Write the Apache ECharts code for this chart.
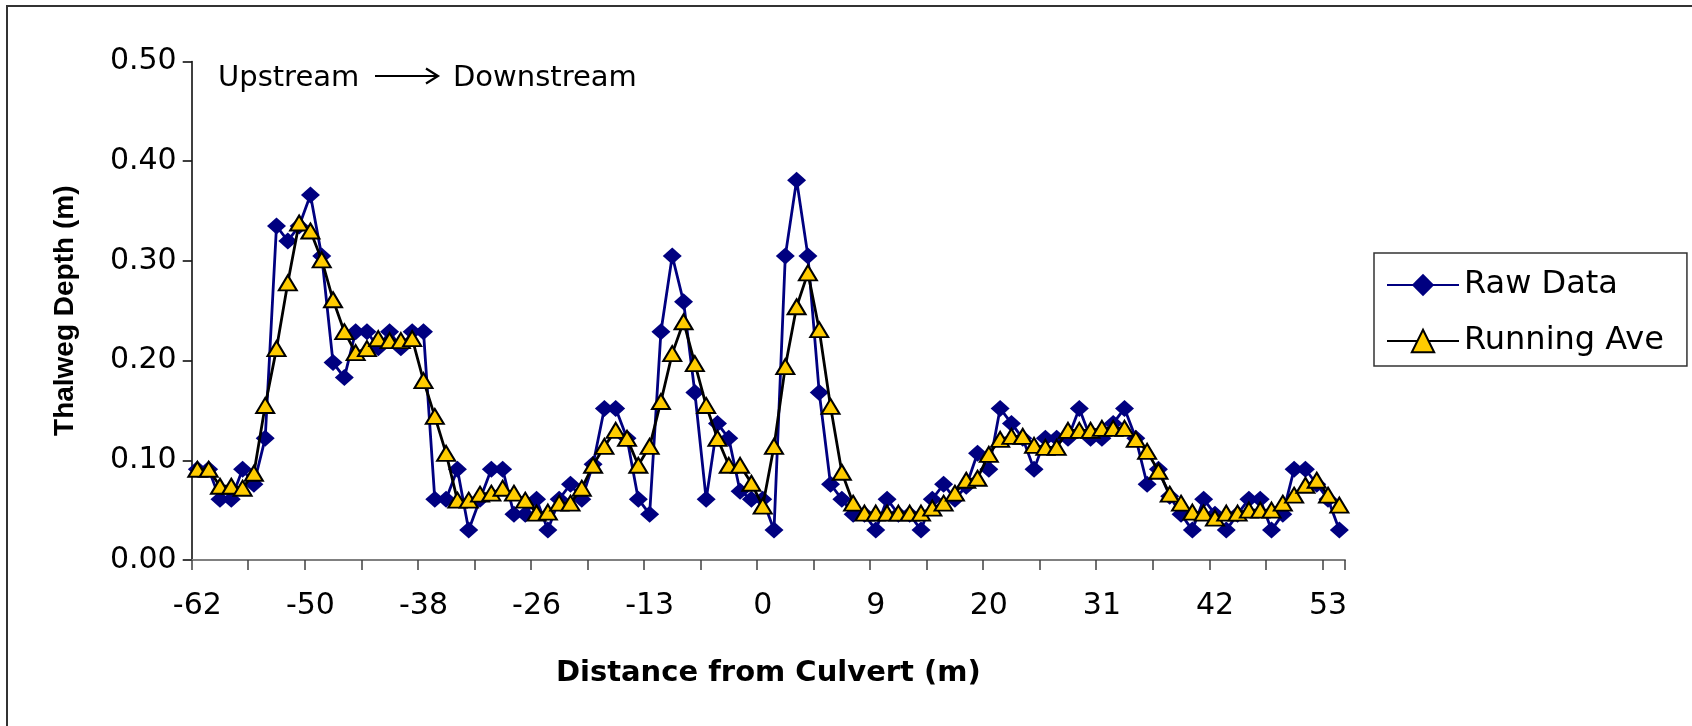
<!DOCTYPE html>
<html><head><meta charset="utf-8">
<script src="https://cdn.jsdelivr.net/npm/echarts@6/dist/echarts.min.js"></script>
<style>html,body{margin:0;padding:0;background:#fff}#c{width:1692px;height:726px}</style>
</head><body><div id="c"></div>
<script>
const categories = [
"-62","-61","-60","-58","-57","-56","-55","-54","-52","-51",
"-50","-49","-48","-46","-45","-44","-43","-42","-40","-39",
"-38","-37","-36","-34","-33","-32","-31","-30","-28","-27",
"-26","-25","-23","-22","-21","-20","-18","-17","-16","-14",
"-13","-12","-10","-9","-8","-7","-5","-4","-3","-1",
"0","1","2","3","4","5","5.5","6","7","8",
"9","10","11","12","13","14","16","17","18","19",
"20","21","22","23","24","25","27","28","29","30",
"31","32","33","34","35","36","38","39","40","41",
"42","43","44","45","46","47","49","50","51","52",
"53","54"];
const rawData = [
0.091,0.091,0.061,0.061,0.091,0.076,0.122,0.335,0.320,0.335,
0.366,0.305,0.198,0.183,0.229,0.229,0.213,0.229,0.213,0.229,
0.229,0.061,0.061,0.091,0.030,0.061,0.091,0.091,0.046,0.046,
0.061,0.030,0.061,0.076,0.061,0.096,0.152,0.152,0.122,0.061,
0.046,0.229,0.305,0.259,0.168,0.061,0.137,0.122,0.069,0.061,
0.061,0.030,0.305,0.381,0.305,0.168,0.076,0.061,0.046,0.046,
0.030,0.061,0.046,0.046,0.030,0.061,0.076,0.061,0.074,0.107,
0.091,0.152,0.137,0.122,0.091,0.122,0.122,0.122,0.152,0.122,
0.122,0.137,0.152,0.122,0.076,0.091,0.064,0.046,0.030,0.061,
0.046,0.030,0.046,0.061,0.061,0.030,0.046,0.091,0.091,0.076,
0.061,0.030];
const runningAve = [
0.091,0.091,0.074,0.074,0.072,0.087,0.155,0.212,0.278,0.338,
0.330,0.301,0.261,0.229,0.208,0.212,0.222,0.220,0.220,0.222,
0.180,0.144,0.107,0.060,0.060,0.066,0.067,0.072,0.067,0.060,
0.047,0.048,0.057,0.057,0.072,0.095,0.114,0.130,0.122,0.095,
0.114,0.159,0.207,0.239,0.197,0.155,0.122,0.095,0.095,0.077,
0.054,0.114,0.194,0.254,0.288,0.231,0.154,0.088,0.057,0.047,
0.047,0.047,0.047,0.047,0.047,0.052,0.057,0.067,0.080,0.082,
0.106,0.121,0.124,0.124,0.115,0.113,0.113,0.130,0.130,0.130,
0.132,0.132,0.132,0.121,0.109,0.089,0.066,0.057,0.048,0.047,
0.042,0.047,0.047,0.050,0.050,0.050,0.057,0.065,0.075,0.080,
0.065,0.055];
const seriesNames = ["Raw Data","Running Ave"];
const xTitle = "Distance from Culvert (m)";
const yTitle = "Thalweg Depth (m)";

const FONT = "'Liberation Sans', Arial, sans-serif";
const WIDE = "'DejaVu Sans', 'Liberation Sans', sans-serif";
const chart = echarts.init(document.getElementById('c'), null, {renderer:'canvas'});
chart.setOption({
  animation:false,
  backgroundColor:'#ffffff',
  textStyle:{fontFamily:FONT},
  grid:{left:191.7, right:347, top:61.5, bottom:166, containLabel:false, outerBoundsMode:'none'},
  xAxis:{
    type:'category', data:categories, boundaryGap:true,
    axisLine:{show:true, lineStyle:{color:'#808080', width:2}},
    axisTick:{show:true, interval:4, length:10, lineStyle:{color:'#404040', width:1.5}},
    axisLabel:{interval:9, margin:31, fontSize:30, color:'#000', fontFamily:WIDE},
    splitLine:{show:false},
    name:xTitle, nameLocation:'middle', nameGap:99,
    nameTextStyle:{fontSize:29, fontWeight:'bold', color:'#000', fontFamily:WIDE}
  },
  yAxis:{
    type:'value', min:0, max:0.5, interval:0.1,
    axisLine:{show:true, lineStyle:{color:'#000', width:1.5}},
    axisTick:{show:true, length:9, lineStyle:{color:'#000', width:1.5}},
    splitLine:{show:false},
    axisLabel:{formatter:v=>v.toFixed(2), fontSize:30, margin:15, color:'#000', fontFamily:WIDE},
    name:yTitle, nameLocation:'middle', nameGap:112, nameRotate:90,
    nameTextStyle:{fontSize:28, fontWeight:'bold', color:'#000', fontFamily:FONT}
  },
  legend:{
    orient:'vertical', left:1374, top:253, padding:[16,23,9,12],
    itemGap:24, itemWidth:72, itemHeight:28,
    borderColor:'#333', borderWidth:1.5, backgroundColor:'#fff',
    textStyle:{fontSize:32, color:'#000', fontFamily:WIDE},
    data:seriesNames
  },
  series:[
    {name:seriesNames[0], type:'line', data:rawData, symbol:'diamond', symbolSize:[19,17],
     showSymbol:true, showAllSymbol:true,
     lineStyle:{color:'#000080', width:2.8}, itemStyle:{color:'#000080'}, z:2},
    {name:seriesNames[1], type:'line', data:runningAve, symbol:'triangle', symbolSize:[18,15],
     showSymbol:true, showAllSymbol:true,
     lineStyle:{color:'#000000', width:2.8}, itemStyle:{color:'#FFCC00', borderColor:'#000', borderWidth:2}, z:3}
  ],
  graphic:[
    {type:'rect', shape:{x:7, y:6, width:1750, height:760}, style:{fill:null, stroke:'#333', lineWidth:2}, silent:true},
    {type:'text', style:{x:218, y:78, text:'Upstream', fontSize:29, fontFamily:WIDE, fill:'#000', verticalAlign:'middle', align:'left'}},
    {type:'polyline', shape:{points:[[375,76],[437,76]]}, style:{stroke:'#000', lineWidth:2.2, fill:null}},
    {type:'polyline', shape:{points:[[426,68.5],[438,76],[426,83.5]]}, style:{stroke:'#000', lineWidth:2.2, fill:null}},
    {type:'text', style:{x:453, y:78, text:'Downstream', fontSize:29, fontFamily:WIDE, fill:'#000', verticalAlign:'middle', align:'left'}}
  ]
});
</script></body></html>
